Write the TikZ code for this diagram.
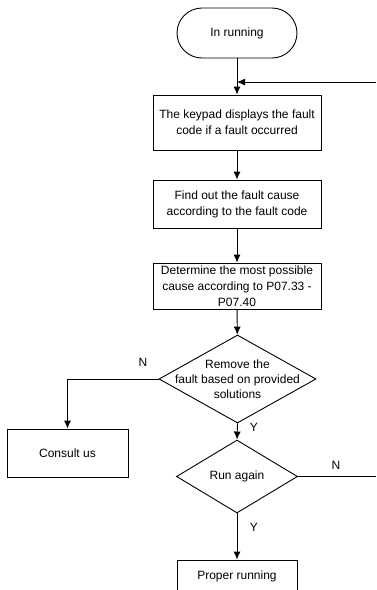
\documentclass[tikz,border=0pt]{standalone}
\usepackage{fontspec}
\setmainfont{Liberation Sans}
\usetikzlibrary{shapes.geometric,arrows.meta}
\begin{document}
\begin{tikzpicture}[x=1pt,y=-1pt,
  every node/.style={font=\fontsize{12}{16}\selectfont},
  procbox/.style={draw,line width=0.9pt,rectangle,align=center,inner sep=0pt},
  decbox/.style={draw,line width=0.9pt,shape=diamond,inner sep=0pt},
  termbox/.style={draw,line width=0.9pt,rectangle,rounded corners=25pt,inner sep=0pt},
  flow/.style={line width=0.9pt,-{Latex[length=8pt,width=7pt]}},
  plain/.style={line width=0.9pt},
  lbl/.style={inner sep=0pt}]
\useasboundingbox (0,0) rectangle (376,590);
\node[termbox,minimum width=120pt,minimum height=50pt] (start) at (237,33) {In running};
\node[procbox,minimum width=168pt,minimum height=55pt] (b1) at (237,122.5) {The keypad displays the fault\\code if a fault occurred};
\node[procbox,minimum width=168pt,minimum height=48pt] (b2) at (237,204) {Find out the fault cause\\according to the fault code};
\node[procbox,minimum width=168pt,minimum height=46pt] (b3) at (237,286) {Determine the most possible\\cause according to P07.33 -\\P07.40};
\node[decbox,minimum width=157pt,minimum height=88pt,label={[align=center,font=\fontsize{12}{15}\selectfont]center:Remove the\\fault based on provided\\solutions}] (d1) at (237.5,379) {};
\node[procbox,minimum width=121pt,minimum height=48pt] (consult) at (67.5,453) {Consult us};
\node[decbox,minimum width=121pt,minimum height=73pt,label={center:Run again}] (d2) at (237,476.5) {};
\node[procbox,minimum width=120pt,minimum height=32pt] (proper) at (237,576) {Proper running};
\coordinate (ret) at (376,82);
\coordinate (loopout) at (376,476.5);
\draw[flow] (start) -- (b1);
\draw[flow] (ret) -- (ret -| start.south);
\draw[flow] (b1) -- (b2);
\draw[flow] (b2) -- (b3);
\draw[flow] (b3) -- (d1);
\draw[flow] (d1.west) -| (consult.north);
\draw[flow] (d1.south) -- (d2.north);
\draw[plain] (d2.east) -- (loopout);
\draw[flow] (d2.south) -- (proper.north);
\node[lbl] (n1) at (143,362) {N};
\node[lbl] (y1) at (254,427) {Y};
\node[lbl] (n2) at (336,465) {N};
\node[lbl] (y2) at (254,527) {Y};
\end{tikzpicture}
\end{document}
